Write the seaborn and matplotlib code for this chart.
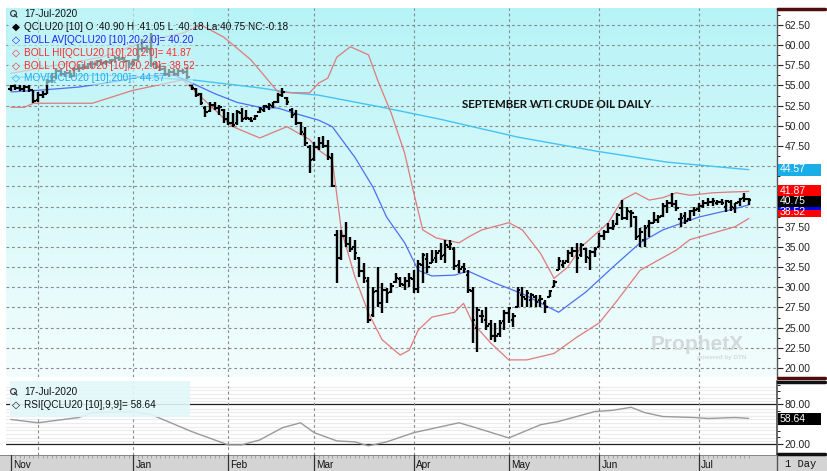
import numpy as np
import pandas as pd
import matplotlib
matplotlib.use("Agg")
import matplotlib.pyplot as plt
import seaborn as sns
from matplotlib.patches import Rectangle
from matplotlib.lines import Line2D
from matplotlib.colors import LinearSegmentedColormap

# ---------------- data ----------------
holidays = ['2019-11-28', '2019-12-25', '2020-01-01', '2020-01-20', '2020-02-17',
            '2020-04-10', '2020-05-25', '2020-07-03']
dates = pd.bdate_range('2019-11-21', '2020-07-17', freq='C', holidays=holidays)

opens = [54.6, 54.9, 54.7, 54.6, 54.8, 54.4, 53.2, 53.8, 54.0, 55.6, 56.0, 56.8, 56.4, 56.5, 56.2, 57.1,
         57.2, 57.3, 57.6, 57.7, 58.0, 57.8, 57.9, 58.2, 58.4, 58.3, 58.0, 57.6, 58.1, 59.5, 59.6, 59.5,
         57.6, 57.3, 57.1, 56.4, 56.7, 56.4, 56.8, 56.7, 55.0, 54.6, 53.9, 52.2, 51.8, 52.6, 52.2, 52.0,
         50.9, 50.3, 50.4, 51.6, 51.0, 50.8, 50.8, 51.7, 52.0, 52.3, 52.4, 53.0, 53.8, 53.4, 52.0, 51.5,
         50.3, 49.0, 47.4, 45.9, 47.4, 47.9, 47.5, 46.0, 36.5, 33.6, 36.4, 35.3, 35.0, 33.6, 32.0, 30.8,
         26.6, 29.5, 28.0, 29.6, 29.4, 30.6, 31.0, 30.3, 30.8, 31.0, 29.8, 32.8, 33.5, 33.0, 33.6, 34.5,
         34.0, 35.0, 34.8, 32.8, 32.5, 31.5, 29.5, 25.0, 26.5, 26.0, 25.5, 24.0, 24.2, 25.8, 26.8, 26.0,
         27.6, 29.0, 28.5, 28.4, 28.8, 28.4, 28.0, 28.8, 30.0, 32.1, 32.8, 33.2, 34.2, 34.5, 34.0, 34.8,
         33.6, 34.4, 35.0, 36.3, 36.8, 37.4, 37.8, 39.8, 38.6, 39.3, 38.7, 36.3, 35.9, 37.6, 38.0, 38.3,
         38.8, 40.1, 40.5, 40.3, 38.5, 38.8, 38.5, 39.4, 39.7, 40.1, 40.4, 40.6, 40.5, 40.6, 39.9, 40.6,
         39.8, 40.6, 41.0, 40.90]
highs = [55.1, 55.2, 55.0, 55.0, 55.0, 54.5, 54.2, 54.3, 55.8, 56.5, 57.0, 57.0, 56.8, 56.9, 57.3, 57.6,
         57.6, 57.8, 58.0, 58.2, 58.3, 58.1, 58.3, 58.6, 58.7, 58.5, 58.2, 58.3, 60.2, 60.8, 60.0, 61.5,
         57.9, 57.7, 57.3, 57.0, 57.0, 57.1, 57.1, 57.3, 55.2, 54.7, 54.1, 52.4, 53.0, 52.9, 52.6, 52.1,
         51.7, 51.6, 52.0, 52.2, 52.0, 51.1, 51.3, 52.3, 52.6, 52.8, 53.0, 54.1, 54.7, 53.6, 52.2, 52.0,
         50.5, 49.9, 47.6, 48.0, 48.6, 48.8, 48.3, 46.6, 37.1, 37.1, 38.1, 36.2, 35.9, 33.8, 33.0, 31.3,
         30.0, 32.5, 30.5, 29.9, 30.5, 31.8, 31.3, 31.3, 31.8, 32.1, 33.4, 34.3, 34.3, 34.6, 34.6, 35.5,
         35.9, 35.9, 35.0, 33.4, 33.0, 32.1, 30.0, 27.6, 27.2, 27.6, 26.0, 25.6, 26.0, 27.2, 27.6, 26.8,
         30.0, 30.0, 29.7, 29.3, 29.1, 29.0, 28.4, 29.7, 30.9, 33.8, 33.4, 34.6, 35.0, 35.5, 35.5, 34.9,
         34.6, 35.0, 36.7, 37.1, 37.9, 38.3, 39.2, 40.8, 40.0, 39.6, 38.8, 37.3, 37.7, 38.3, 39.3, 39.0,
         40.5, 40.8, 41.7, 40.8, 39.2, 39.3, 39.6, 40.0, 40.5, 40.8, 41.0, 41.0, 40.8, 40.9, 40.8, 40.8,
         40.5, 41.0, 41.7, 41.05]
lows = [54.3, 54.5, 54.3, 54.2, 54.2, 52.8, 53.0, 53.4, 53.9, 55.3, 55.8, 56.2, 56.0, 55.9, 56.0, 56.7,
        56.9, 57.0, 57.2, 57.4, 57.5, 57.5, 57.7, 57.9, 58.0, 57.8, 57.2, 57.4, 58.0, 59.2, 59.0, 57.3,
        57.0, 56.8, 56.2, 56.1, 56.2, 56.2, 56.4, 55.8, 54.5, 53.6, 52.6, 51.1, 51.7, 52.0, 51.3, 50.4,
        50.1, 49.9, 50.1, 50.5, 50.7, 50.5, 50.7, 51.6, 51.7, 52.0, 52.2, 52.8, 53.6, 52.6, 51.0, 50.1,
        48.9, 47.5, 44.2, 45.6, 47.0, 47.2, 45.8, 42.4, 30.5, 33.4, 35.0, 34.4, 33.4, 31.3, 30.5, 25.6,
        26.3, 27.6, 26.8, 28.0, 29.3, 30.5, 30.0, 29.7, 30.0, 29.3, 29.3, 30.5, 31.8, 33.0, 33.0, 33.4,
        33.0, 34.6, 32.1, 31.8, 31.8, 29.3, 23.1, 22.0, 25.6, 24.7, 23.5, 23.2, 23.8, 24.7, 25.6, 25.1,
        27.6, 27.6, 27.6, 27.6, 27.6, 27.5, 26.8, 28.8, 30.0, 32.1, 32.4, 33.0, 33.8, 31.8, 33.8, 33.0,
        32.1, 33.8, 35.0, 35.9, 36.7, 37.1, 37.7, 38.3, 38.3, 37.5, 35.9, 35.0, 35.0, 36.2, 37.9, 37.9,
        38.7, 39.2, 40.0, 39.5, 37.5, 37.8, 38.2, 38.8, 39.3, 39.8, 40.1, 40.1, 40.2, 40.2, 39.3, 39.5,
        39.2, 40.1, 40.6, 40.18]
closes = [54.9, 54.7, 54.6, 54.8, 54.5, 53.1, 53.8, 54.0, 55.6, 56.0, 56.8, 56.4, 56.5, 56.2, 57.1, 57.2,
          57.3, 57.6, 57.7, 58.0, 57.8, 57.9, 58.2, 58.4, 58.3, 58.0, 57.6, 58.1, 59.5, 59.6, 59.5, 57.6,
          57.3, 57.1, 56.4, 56.7, 56.4, 56.8, 56.7, 56.0, 54.7, 53.8, 52.8, 51.7, 52.6, 52.2, 52.3, 50.9,
          50.3, 50.1, 51.7, 50.9, 51.0, 50.6, 51.2, 52.1, 52.4, 52.6, 52.9, 53.8, 54.2, 52.9, 51.3, 50.4,
          49.2, 47.9, 45.8, 47.4, 47.9, 47.5, 46.1, 42.6, 33.6, 36.4, 35.3, 34.8, 34.3, 32.0, 31.2, 26.0,
          29.4, 28.0, 29.6, 29.3, 30.2, 31.1, 30.4, 30.8, 31.2, 29.8, 32.9, 34.0, 32.5, 33.4, 34.2, 33.9,
          35.2, 35.4, 32.6, 32.3, 32.2, 29.6, 26.0, 27.2, 26.4, 25.2, 23.9, 24.0, 25.6, 26.8, 27.4, 26.4,
          29.7, 28.8, 29.3, 29.0, 28.2, 28.6, 27.6, 29.5, 30.6, 33.2, 33.0, 34.3, 34.5, 33.6, 35.2, 33.8,
          34.4, 34.8, 36.3, 36.8, 37.4, 37.6, 38.9, 38.6, 39.5, 39.2, 36.2, 36.8, 37.4, 37.9, 38.3, 38.7,
          40.1, 40.5, 40.3, 39.8, 38.6, 38.2, 39.4, 39.6, 40.1, 40.5, 40.6, 40.7, 40.6, 40.4, 40.7, 39.9,
          40.4, 40.9, 40.93, 40.75]

# indicator lines (bar index, value)
bb_mid_idx = [0, 6, 15, 22, 30, 36, 40, 45, 50, 55, 59, 63, 68, 71, 76, 80, 83, 87, 90, 93, 98, 101,
              107, 113, 121, 127, 133, 139, 144, 152, 159, 163]
bb_mid_val = [54.2, 54.4, 54.8, 55.4, 56.2, 56.3, 55.3, 54.0, 52.9, 52.3, 52.2, 51.5, 50.7, 49.9, 46.1,
              42.4, 38.7, 35.5, 32.1, 31.4, 31.5, 32.0, 30.5, 29.2, 26.9, 29.4, 32.5, 35.5, 37.1, 38.7,
              39.6, 40.2]
bb_hi_idx = [0, 10, 20, 30, 38, 42, 47, 53, 59, 62, 66, 68, 70, 72, 75, 79, 81, 84, 87, 89, 91, 94, 99,
             101, 104, 110, 113, 117, 120, 123, 126, 132, 135, 138, 141, 144, 147, 150, 155, 159, 163]
bb_hi_val = [56.5, 57.5, 58.5, 60.5, 61.5, 62.5, 61.0, 58.2, 54.2, 54.1, 54.1, 55.3, 55.9, 58.5, 59.8,
             58.8, 55.7, 51.6, 46.6, 41.7, 37.1, 36.1, 35.5, 36.2, 37.1, 38.0, 37.1, 34.2, 31.1, 32.5,
             35.0, 38.0, 40.8, 41.7, 40.8, 41.1, 41.7, 41.4, 41.7, 41.8, 41.87]
bb_lo_idx = [0, 3, 5, 18, 27, 38, 49, 55, 61, 66, 68, 71, 73, 76, 79, 82, 86, 88, 90, 93, 98, 100, 102,
             106, 110, 114, 120, 125, 130, 134, 139, 147, 150, 155, 160, 163]
bb_lo_val = [52.3, 52.3, 52.8, 52.8, 54.4, 55.7, 49.9, 48.5, 49.9, 48.3, 47.0, 45.8, 37.1, 31.3, 26.8,
             23.5, 21.6, 22.2, 24.7, 26.3, 26.9, 28.0, 25.6, 23.1, 21.0, 21.0, 21.8, 23.8, 25.6, 28.4,
             32.1, 34.6, 35.9, 36.7, 37.5, 38.52]
ma200_idx = [0, 20, 40, 55, 62, 68, 82, 95, 112, 130, 145, 163]
ma200_val = [56.0, 56.3, 55.7, 54.7, 54.1, 53.8, 52.3, 50.8, 48.6, 46.8, 45.5, 44.57]
rsi_idx = [0, 6, 15, 18, 27, 31, 40, 43, 48, 51, 55, 60, 64, 67, 72, 76, 79, 83, 89, 95, 99, 102, 110,
           117, 121, 129, 133, 137, 140, 144, 151, 154, 160, 163]
rsi_val = [57, 52, 60, 67.5, 69, 64.5, 38.5, 31, 18.5, 18.5, 26, 44.5, 52, 37, 24.5, 23, 17, 23, 37,
           46, 52, 46, 29, 49, 54, 69, 71, 75.5, 67.5, 61.5, 60, 58.5, 60, 58.64]

price_ticks = [20.0, 22.5, 25.0, 27.5, 30.0, 32.5, 35.0, 37.5, 40.0, 42.5, 45.0, 47.5, 50.0, 52.5, 55.0,
               57.5, 60.0, 62.5]
hidden_price_labels = [40.0, 42.5, 45.0]   # covered by the value boxes in the reference
rsi_ticks = [20, 50, 80]
month_names = ["Nov", "Jan", "Feb", "Mar", "Apr", "May", "Jun", "Jul"]

# ---------------- figure ----------------
sns.set_theme(style="white")
plt.rcParams['font.family'] = ['Liberation Sans', 'DejaVu Sans']

W, H = 827, 471
fig = plt.figure(figsize=(W / 100, H / 100), dpi=100)
fig.patch.set_facecolor('white')


def fx(x):
    return x / W


def fy(y):
    return 1 - y / H


X0, X1 = 6, 777
PX_PER_BAR = 4.527
def px_to_idx(px):
    return 6 + (px - 38) / PX_PER_BAR

idx = np.arange(len(dates))
month_change = [i for i in range(1, len(dates)) if dates[i].month != dates[i - 1].month]

ax = fig.add_axes([fx(X0), fy(377), fx(X1) - fx(X0), fy(8) - fy(377)])
axr = fig.add_axes([fx(X0), fy(455), fx(X1) - fx(X0), fy(381) - fy(455)])
axd = fig.add_axes([0, 0, fx(X1), fy(455)])

xlim = (px_to_idx(X0), px_to_idx(X1))
ylim = (18.88, 64.6)

# background gradient
cmap = LinearSegmentedColormap.from_list("bg", ["#f3fdfd", "#d8f9fa", "#b6f3f7"])
grad = np.linspace(0, 1, 256).reshape(-1, 1)
ax.imshow(grad, extent=[xlim[0], xlim[1], ylim[0], ylim[1]], origin='lower', aspect='auto',
          cmap=cmap, zorder=0)
ax.set_xlim(*xlim)
ax.set_ylim(*ylim)

dash = (0, (2.5, 2.5))
for v in price_ticks:
    ax.axhline(v, color='#8a8a8a', lw=0.8, ls=dash, zorder=1)
for m in month_change:
    ax.axvline(m, color='#8a8a8a', lw=0.8, ls=dash, zorder=1)

# indicator lines
sns.lineplot(x=ma200_idx, y=ma200_val, ax=ax, color='#45c3f2', lw=1.0, estimator=None, sort=False, zorder=2)
sns.lineplot(x=bb_hi_idx, y=bb_hi_val, ax=ax, color='#e07a7a', lw=0.9, estimator=None, sort=False, zorder=2)
sns.lineplot(x=bb_lo_idx, y=bb_lo_val, ax=ax, color='#e07a7a', lw=0.9, estimator=None, sort=False, zorder=2)
sns.lineplot(x=bb_mid_idx, y=bb_mid_val, ax=ax, color='#4d6ff5', lw=0.9, estimator=None, sort=False, zorder=2)

# OHLC bars
tk = 0.55
ax.vlines(idx, lows, highs, color='black', lw=1.7, zorder=4)
ax.hlines(opens, idx - tk, idx, color='black', lw=1.5, zorder=4)
ax.hlines(closes, idx, idx + tk, color='black', lw=1.5, zorder=4)

# right price axis
ax.yaxis.tick_right()
ax.set_yticks(price_ticks)
ax.set_yticklabels(["" if v in hidden_price_labels else f"{v:.2f}" for v in price_ticks])
ax.set_yticks([v + 1.25 for v in price_ticks[:-1]] + [63.75], minor=True)
ax.tick_params(axis='y', which='major', direction='out', length=4, width=0.8, pad=1.5,
               labelsize=7.5, colors='#222222', right=True, left=False)
ax.tick_params(axis='y', which='minor', direction='out', length=2, width=0.7, right=True, left=False,
               colors='#222222')
ax.set_xticks([])
ax.set_xlabel("")
ax.set_ylabel("")
for s in ['top', 'left', 'bottom']:
    ax.spines[s].set_visible(False)
ax.spines['right'].set_color('#555555')
ax.spines['right'].set_linewidth(1.0)
ax.grid(False)

# legend overlay (main)
ax.add_patch(Rectangle((fx(8), fy(85)), fx(193) - fx(8), fy(8) - fy(85), transform=fig.transFigure,
                       facecolor='#c6f5f8', alpha=0.62, edgecolor='none', zorder=5, clip_on=False))

fs = 7.2
def ftext(x, y, s, **kw):
    fig.text(fx(x), fy(y), s, va='center', ha='left', fontsize=kw.pop('fontsize', fs), zorder=10, **kw)

def magnifier(x, y):
    fig.add_artist(Line2D([fx(x)], [fy(y)], marker='o', markersize=4.2, markerfacecolor='none',
                          markeredgecolor='#333333', markeredgewidth=0.8, transform=fig.transFigure))
    fig.add_artist(Line2D([fx(x + 1.5), fx(x + 4)], [fy(y + 1.5), fy(y + 4)], color='#333333', lw=1.0,
                          transform=fig.transFigure))

magnifier(13, 13)
ftext(24, 14, "17-Jul-2020", color='#111111')
ftext(12, 27, "◆", color='black', family=['DejaVu Sans'], fontsize=7.5)
ftext(24, 27, "QCLU20 [10] O :40.90 H :41.05 L :40.18 La:40.75 NC:-0.18", color='#111111')
ftext(12, 40, "◇", color='#2222ff', family=['DejaVu Sans'], fontsize=7.5)
ftext(24, 40, "BOLL AV[QCLU20 [10],20,2.0]= 40.20", color='#2222ff')
ftext(12, 53, "◇", color='#ff2a2a', family=['DejaVu Sans'], fontsize=7.5)
ftext(24, 53, "BOLL HI[QCLU20 [10],20,2.0]= 41.87", color='#ff2a2a')
ftext(12, 66, "◇", color='#ff2a2a', family=['DejaVu Sans'], fontsize=7.5)
ftext(24, 66, "BOLL LO[QCLU20 [10],20,2.0]= 38.52", color='#ff2a2a')
ftext(12, 78, "◇", color='#22aaee', family=['DejaVu Sans'], fontsize=7.5)
ftext(24, 78, "MOV[QCLU20 [10],200]= 44.57", color='#22aaee')

# title and watermark
fig.text(fx(557), fy(104), "SEPTEMBER WTI CRUDE OIL DAILY", ha='center', va='center', fontsize=8.3,
         fontweight='bold', color='#111111', family=['Lato', 'DejaVu Sans'])
fig.text(fx(697), fy(344), "ProphetX", ha='center', va='center', fontsize=15, fontweight='bold',
         color='#d3d9da', zorder=1)
fig.text(fx(722), fy(358), "powered by DTN", ha='center', va='center', fontsize=4.5, fontweight='bold',
         color='#d3d9da', zorder=1)

# value boxes on the right
def vbox(yc, txt, color, h=12):
    fig.add_artist(Rectangle((fx(778), fy(yc + h / 2)), fx(821) - fx(778), h / H, facecolor=color,
                             edgecolor='none', transform=fig.transFigure, zorder=8))
    if txt:
        fig.text(fx(780), fy(yc), txt, color='white', fontsize=7.5, va='center', ha='left', zorder=9)

vbox(169.5, "44.57", '#1aaee8')
vbox(191, "41.87", '#ff0000')
vbox(211, None, '#ff0000')
vbox(204, None, '#0000ff')
vbox(201, "40.75", '#000000', h=11)
fig.text(fx(780), fy(212), "38.52", color='white', fontsize=7.5, va='center', ha='left', zorder=9)

# dark separators at right
fig.add_artist(Line2D([fx(778), fx(825)], [fy(9), fy(9)], color='#4e0c0c', lw=2.5, transform=fig.transFigure))
fig.add_artist(Line2D([fx(778), fx(825)], [fy(377.5), fy(377.5)], color='#4e0c0c', lw=2.5,
                      transform=fig.transFigure))

# ---------------- RSI panel ----------------
axr.set_xlim(*xlim)
axr.set_ylim(3.1, 115.4)
axr.set_facecolor('white')
for v in np.arange(24, 112, 5.5):
    if abs(v - 80) > 2 and abs(v - 20) > 2:
        axr.axhline(v, color='#ececec', lw=0.8, zorder=0)
axr.axhline(80, color='#222222', lw=0.9, zorder=1)
axr.axhline(20, color='#222222', lw=0.9, zorder=1)
for m in month_change:
    axr.axvline(m, color='#8a8a8a', lw=0.8, ls=dash, zorder=1)
sns.lineplot(x=rsi_idx, y=rsi_val, ax=axr, color='#9a9a9a', lw=1.0, estimator=None, sort=False, zorder=3)
axr.yaxis.tick_right()
axr.set_yticks(rsi_ticks)
axr.set_yticklabels(["20.00", "", "80.00"])   # 50.00 sits under the value box
axr.set_yticks([30, 40, 60, 70, 90, 100, 110], minor=True)
axr.tick_params(axis='y', which='major', direction='out', length=4, width=0.8, pad=1.5,
                labelsize=7.5, colors='#222222', right=True, left=False)
axr.tick_params(axis='y', which='minor', direction='out', length=2, width=0.7, right=True, left=False,
                colors='#222222')
axr.set_xticks([])
axr.set_xlabel("")
axr.set_ylabel("")
for s in ['top', 'left', 'bottom']:
    axr.spines[s].set_visible(False)
axr.spines['right'].set_color('#555555')
axr.grid(False)
axr.add_patch(Rectangle((fx(10), fy(417)), fx(190) - fx(10), fy(381) - fy(417), transform=fig.transFigure,
                        facecolor='#e2f8f9', alpha=0.9, edgecolor='none', zorder=5, clip_on=False))
magnifier(13, 391)
ftext(24, 392, "17-Jul-2020", color='#111111')
ftext(12, 405, "◇", color='#111111', family=['DejaVu Sans'], fontsize=7.5)
ftext(24, 405, "RSI[QCLU20 [10],9,9]= 58.64", color='#111111')
vbox(419, "58.64", '#000000')
fig.add_artist(Line2D([fx(778), fx(825)], [fy(381.5), fy(381.5)], color='#111111', lw=2.5,
                      transform=fig.transFigure))
fig.add_artist(Line2D([fx(778), fx(825)], [fy(453.5), fy(453.5)], color='#111111', lw=2.5,
                      transform=fig.transFigure))

# ---------------- date bar ----------------
axd.set_xlim(px_to_idx(0), px_to_idx(X1))
axd.set_ylim(0, 1)
axd.set_facecolor('#d4d4d4')
axd.set_xticks([])
axd.set_yticks([])
for s in axd.spines.values():
    s.set_visible(False)
axd.axhline(1, color='#777777', lw=1.2)
axd.vlines(idx, 0.82, 1.0, color='#9a9a9a', lw=0.6)
label_pos = [0] + month_change[1:]
for pos, name in zip(label_pos, month_names):
    axd.axvline(pos, color='#333333', lw=0.9)
    axd.text(pos + 0.5, 0.35, name, fontsize=7.2, va='center', ha='left', color='#111111')
fig.add_artist(Rectangle((fx(X1), 0), 1 - fx(X1), fy(455), facecolor='#d4d4d4', edgecolor='none',
                         transform=fig.transFigure, zorder=1))
fig.add_artist(Line2D([fx(X1), fx(X1)], [0, fy(455)], color='#555555', lw=1.0, transform=fig.transFigure))
fig.text(fx(785), fy(464), "1 Day", fontsize=7.5, va='center', ha='left', color='#111111',
         family=['Liberation Mono', 'DejaVu Sans Mono'])

fig.savefig("out.png", dpi=100, facecolor='white')
